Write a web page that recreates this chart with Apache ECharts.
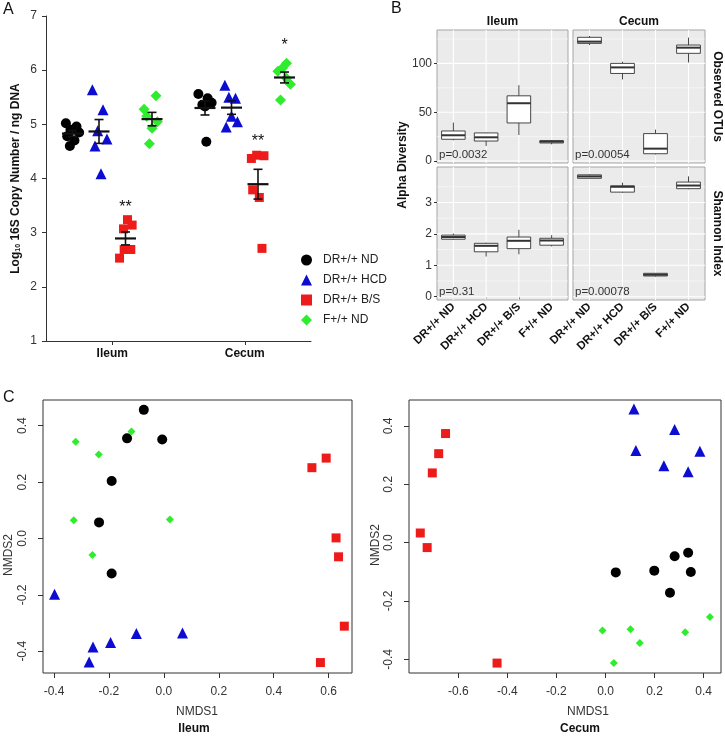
<!DOCTYPE html>
<html><head><meta charset="utf-8">
<script src="https://cdn.jsdelivr.net/npm/echarts@6/dist/echarts.min.js"></script>
<style>html,body{margin:0;padding:0;background:#fff}#c{width:725px;height:736px}</style>
</head><body><div id="c"></div>
<script>
const FONT = '"Liberation Sans", Arial, Helvetica, sans-serif';

// ---------- shared ----------
const groups = ['DR+/+ ND', 'DR+/+ HCD', 'DR+/+ B/S', 'F+/+ ND'];
const sites = ['Ileum', 'Cecum'];

// ---------- Panel A: log10 16S copy number / ng DNA ----------
const copyTicks = [1, 2, 3, 4, 5, 6, 7];
const ileumCopies = [
  [5.02, 4.96, 4.90, 4.85, 4.78, 4.70, 4.60],
  [5.64, 5.27, 4.88, 4.73, 4.60, 4.09],
  [3.24, 3.14, 3.07, 2.69, 2.69, 2.53],
  [5.53, 5.28, 5.15, 5.05, 4.93, 4.64]
];
const ileumJitter = [
  [-0.05, 0.03, -0.015, 0.05, -0.04, 0.015, -0.02],
  [-0.05, 0.03, -0.01, 0.06, -0.03, 0.015],
  [0.015, 0.05, -0.015, -0.01, 0.04, -0.045],
  [0.03, -0.06, -0.04, 0.04, 0, -0.02]
];
const cecumCopies = [
  [5.56, 5.48, 5.40, 5.36, 5.33, 4.68],
  [5.72, 5.50, 5.48, 5.15, 5.05, 4.95],
  [4.43, 4.42, 4.37, 3.79, 3.65, 2.71],
  [6.13, 6.04, 5.98, 5.85, 5.74, 5.45]
];
const cecumJitter = [
  [-0.05, 0.02, 0.05, -0.02, 0, 0.01],
  [-0.05, -0.02, 0.03, 0, 0.045, -0.04],
  [-0.01, 0.045, -0.05, -0.04, 0.01, 0.03],
  [0.015, -0.015, -0.05, 0.015, 0.045, -0.03]
];
const starSite = [0, 1, 1];
const starGroup = [2, 2, 3];
const starText = ['**', '**', '*'];
const starLevel = [3.46, 4.69, 6.45];

// ---------- Panel B: alpha diversity boxplots [min, q1, median, q3, max] ----------
const otuTicks = [0, 50, 100];
const otuMinor = [25, 75, 125];
const shannonTicks = [0, 1, 2, 3];
const shannonMinor = [0.5, 1.5, 2.5, 3.5];
const otuIleum = [
  [21.2, 22.3, 26.4, 30.8, 39.4],
  [15.4, 20.5, 24.3, 28.8, 29.1],
  [26.7, 39.0, 59.2, 66.8, 77.7],
  [17.1, 18.5, 19.9, 20.9, 21.6]
];
const otuCecum = [
  [118.8, 120.5, 122.3, 126.7, 128.1],
  [83.6, 89.7, 95.9, 100.0, 101.7],
  [6.8, 7.5, 12.7, 28.1, 32.2],
  [101.0, 110.3, 116.1, 118.8, 126.4]
];
const shannonIleum = [
  [1.81, 1.83, 1.90, 1.96, 2.01],
  [1.28, 1.43, 1.62, 1.70, 1.72],
  [1.35, 1.53, 1.78, 1.90, 2.13],
  [1.60, 1.64, 1.79, 1.86, 1.96]
];
const shannonCecum = [
  [3.76, 3.77, 3.83, 3.88, 3.90],
  [3.31, 3.33, 3.50, 3.53, 3.63],
  [0.64, 0.66, 0.70, 0.745, 0.75],
  [3.42, 3.44, 3.54, 3.65, 3.83]
];
const pLabels = ['p=0.0032', 'p=0.00054', 'p=0.31', 'p=0.00078'];

// ---------- Panel C: NMDS ordination [NMDS1, NMDS2] ----------
const nmdsTicksIleumX = [-0.4, -0.2, 0.0, 0.2, 0.4, 0.6];
const nmdsTicksCecumX = [-0.6, -0.4, -0.2, 0.0, 0.2, 0.4];
const nmdsTicksY = [-0.4, -0.2, 0.0, 0.2, 0.4];
const ileumNMDS = [
  [[-0.073, 0.456], [-0.134, 0.355], [-0.006, 0.351], [-0.190, 0.204], [-0.236, 0.057], [-0.190, -0.124]],
  [[-0.398, -0.198], [-0.258, -0.385], [-0.272, -0.438], [-0.194, -0.369], [-0.100, -0.337], [0.068, -0.335]],
  [[0.539, 0.251], [0.591, 0.285], [0.627, 0.002], [0.636, -0.065], [0.657, -0.311], [0.570, -0.440]],
  [[-0.321, 0.343], [-0.118, 0.379], [-0.237, 0.298], [-0.328, 0.065], [0.022, 0.067], [-0.260, -0.059]]
];
const cecumNMDS = [
  [[0.042, -0.102], [0.199, -0.096], [0.282, -0.047], [0.337, -0.035], [0.348, -0.101], [0.263, -0.172]],
  [[0.116, 0.458], [0.282, 0.388], [0.124, 0.316], [0.238, 0.264], [0.337, 0.243], [0.385, 0.313]],
  [[-0.652, 0.374], [-0.680, 0.305], [-0.706, 0.239], [-0.755, 0.033], [-0.727, -0.017], [-0.442, -0.413]],
  [[-0.012, -0.301], [0.102, -0.297], [0.140, -0.344], [0.034, -0.413], [0.325, -0.307], [0.426, -0.255]]
];

// ---------- styles ----------
const groupColors = ['#000000', '#0c0cd2', '#ee1b1b', '#2ded2d'];
const groupSymbols = ['circle', 'triangle', 'rect', 'diamond'];
const sizeA = [10, 11, 9, 11];
const sizeC = [10, 11, 9, 8];
const dodge = [-0.3, -0.1, 0.1, 0.3];

const chart = echarts.init(document.getElementById('c'), null, {renderer: 'canvas'});

function mean(a) { return a.reduce((s, v) => s + v, 0) / a.length; }
function sem(a) {
  const m = mean(a);
  const v = a.reduce((s, x) => s + (x - m) * (x - m), 0) / (a.length - 1);
  return Math.sqrt(v / a.length);
}

const series = [];
const copies = [ileumCopies, cecumCopies];
const jitters = [ileumJitter, cecumJitter];

// Panel A points
groups.forEach((g, gi) => {
  const data = [];
  sites.forEach((s, si) => {
    copies[si][gi].forEach((v, k) => data.push([si + 0.5 + dodge[gi] + jitters[si][gi][k], v]));
  });
  series.push({
    name: g, type: 'scatter', xAxisIndex: 1, yAxisIndex: 0, data,
    symbol: groupSymbols[gi], symbolSize: sizeA[gi],
    itemStyle: {color: groupColors[gi], opacity: 1}, z: 3
  });
});
// Panel A mean +/- SEM
const meanData = [];
sites.forEach((s, si) => groups.forEach((g, gi) => {
  meanData.push([si + 0.5 + dodge[gi], mean(copies[si][gi]), sem(copies[si][gi])]);
}));
series.push({
  type: 'custom', xAxisIndex: 1, yAxisIndex: 0, data: meanData, z: 5, silent: true,
  renderItem: function (params, api) {
    const x = api.value(0), m = api.value(1), e = api.value(2);
    const pm = api.coord([x, m]), pt = api.coord([x, m + e]), pb = api.coord([x, m - e]);
    const st = {stroke: '#111', lineWidth: 1.6};
    return {type: 'group', children: [
      {type: 'line', shape: {x1: pm[0] - 10.5, y1: pm[1], x2: pm[0] + 10.5, y2: pm[1]}, style: {stroke: '#111', lineWidth: 2.2}},
      {type: 'line', shape: {x1: pt[0], y1: pt[1], x2: pb[0], y2: pb[1]}, style: st},
      {type: 'line', shape: {x1: pt[0] - 4.5, y1: pt[1], x2: pt[0] + 4.5, y2: pt[1]}, style: st},
      {type: 'line', shape: {x1: pb[0] - 4.5, y1: pb[1], x2: pb[0] + 4.5, y2: pb[1]}, style: st}
    ]};
  }
});
// Panel A significance stars
series.push({
  type: 'custom', xAxisIndex: 1, yAxisIndex: 0, silent: true, z: 6,
  data: starText.map((t, i) => [starSite[i] + 0.5 + dodge[starGroup[i]], starLevel[i], i]),
  renderItem: function (params, api) {
    const p = api.coord([api.value(0), api.value(1)]);
    return {type: 'text', x: p[0], y: p[1], style: {text: starText[api.value(2)], align: 'center', verticalAlign: 'middle', font: '16px ' + FONT, fill: '#111'}};
  }
});

// Panel B
const bPanels = [
  {grid: 1, data: otuIleum, ticks: otuTicks, minor: otuMinor},
  {grid: 2, data: otuCecum, ticks: otuTicks, minor: otuMinor},
  {grid: 3, data: shannonIleum, ticks: shannonTicks, minor: shannonMinor},
  {grid: 4, data: shannonCecum, ticks: shannonTicks, minor: shannonMinor}
];
bPanels.forEach(p => {
  const lines = [];
  p.ticks.forEach(v => lines.push([0, v, 0]));
  p.minor.forEach(v => lines.push([0, v, 1]));
  groups.forEach((g, gi) => lines.push([gi, 0, 2]));
  series.push({
    type: 'custom', xAxisIndex: p.grid + 1, yAxisIndex: p.grid, data: lines, z: 1, silent: true,
    encode: {x: 0, y: 1},
    renderItem: function (params, api) {
      const cs = params.coordSys;
      const kind = api.value(2);
      if (kind === 2) {
        const x = api.coord([api.value(0), 0])[0];
        return {type: 'line', shape: {x1: x, y1: cs.y, x2: x, y2: cs.y + cs.height}, style: {stroke: '#ffffff', lineWidth: 1.1}};
      }
      const y = api.coord([0, api.value(1)])[1];
      return {type: 'line', shape: {x1: cs.x, y1: y, x2: cs.x + cs.width, y2: y}, style: {stroke: '#ffffff', lineWidth: kind === 0 ? 1.1 : 0.5}};
    }
  });
  series.push({
    type: 'custom', xAxisIndex: p.grid + 1, yAxisIndex: p.grid, z: 3, silent: true,
    data: p.data.map((b, gi) => [gi].concat(b)),
    encode: {x: 0, y: [1, 2, 3, 4, 5]},
    renderItem: function (params, api) {
      const x = api.value(0);
      const pMin = api.coord([x, api.value(1)]), pQ1 = api.coord([x, api.value(2)]),
            pMed = api.coord([x, api.value(3)]), pQ3 = api.coord([x, api.value(4)]),
            pMax = api.coord([x, api.value(5)]);
      const w = api.size([1, 0])[0] * 0.72;
      const st = {stroke: '#333333', lineWidth: 0.9};
      return {type: 'group', children: [
        {type: 'line', shape: {x1: pMax[0], y1: pMax[1], x2: pQ3[0], y2: pQ3[1]}, style: st},
        {type: 'line', shape: {x1: pQ1[0], y1: pQ1[1], x2: pMin[0], y2: pMin[1]}, style: st},
        {type: 'rect', shape: {x: pQ3[0] - w / 2, y: pQ3[1], width: w, height: pQ1[1] - pQ3[1]}, style: {fill: '#ffffff', stroke: '#333333', lineWidth: 0.9}},
        {type: 'line', shape: {x1: pMed[0] - w / 2, y1: pMed[1], x2: pMed[0] + w / 2, y2: pMed[1]}, style: {stroke: '#333333', lineWidth: 2}}
      ]};
    }
  });
});

// Panel C
[ileumNMDS, cecumNMDS].forEach((set, si) => {
  set.forEach((pts, gi) => {
    series.push({
      name: groups[gi], type: 'scatter', xAxisIndex: 6 + si, yAxisIndex: 5 + si, data: pts,
      symbol: groupSymbols[gi], symbolSize: sizeC[gi],
      itemStyle: {color: groupColors[gi], opacity: 1}, z: 3
    });
  });
});

const axisLbl = {fontFamily: FONT, fontSize: 12, color: '#333'};
const bgGrid = {show: true, backgroundColor: '#EBEBEB', borderColor: '#a5a5a5', borderWidth: 1};

const bX = (gi, bottom) => ({
  type: 'category', gridIndex: gi, data: groups, boundaryGap: true,
  axisLine: {show: false}, splitLine: {show: false},
  axisTick: {show: bottom, alignWithLabel: true, length: 3, lineStyle: {color: '#333'}},
  axisLabel: {show: bottom, interval: 0, rotate: 45, margin: 5, fontFamily: FONT, fontSize: 11.5, fontWeight: 'bold', color: '#111'}
});
const bY = (gi, left, mn, mx, ticks) => ({
  type: 'value', gridIndex: gi, min: mn, max: mx,
  axisLine: {show: false}, splitLine: {show: false},
  axisTick: {show: left, customValues: ticks, length: 3, lineStyle: {color: '#333'}},
  axisLabel: {show: left, customValues: ticks, margin: 5, fontFamily: FONT, fontSize: 12, color: '#333'}
});
const cX = (gi, mn, mx, ticks) => ({
  type: 'value', gridIndex: gi, min: mn, max: mx,
  axisLine: {show: false, onZero: false}, splitLine: {show: false},
  axisTick: {show: true, customValues: ticks, length: 5, lineStyle: {color: '#333'}},
  axisLabel: Object.assign({customValues: ticks, margin: 13, formatter: v => v.toFixed(1)}, axisLbl)
});
const cY = (gi, mn, mx, ticks) => ({
  type: 'value', gridIndex: gi, min: mn, max: mx,
  axisLine: {show: false, onZero: false}, splitLine: {show: false},
  axisTick: {show: true, customValues: ticks, length: 5, lineStyle: {color: '#333'}},
  axisLabel: Object.assign({customValues: ticks, margin: 14, rotate: 90, formatter: v => v.toFixed(1)}, axisLbl)
});

function txt(text, x, y, o) {
  o = o || {};
  return {type: 'text', x: x, y: y, z: 100, rotation: o.rot || 0, silent: true,
    style: {text: text, align: o.align || 'center', verticalAlign: 'middle', fill: o.color || '#111',
      font: (o.bold ? 'bold ' : '') + (o.size || 12) + 'px ' + FONT}};
}

const option = {
  animation: false,
  backgroundColor: '#ffffff',
  textStyle: {fontFamily: FONT},
  legend: {
    orient: 'vertical', left: 296, top: 249, itemWidth: 11, itemHeight: 11, itemGap: 8,
    data: groups, selectedMode: false,
    textStyle: {fontFamily: FONT, fontSize: 12, color: '#222', padding: [0, 0, 0, 6]}
  },
  grid: [
    {left: 46, top: 16, width: 265, height: 325},
    Object.assign({left: 437, top: 30, width: 131, height: 133}, bgGrid),
    Object.assign({left: 573, top: 30, width: 132, height: 133}, bgGrid),
    Object.assign({left: 437, top: 167, width: 131, height: 133}, bgGrid),
    Object.assign({left: 573, top: 167, width: 132, height: 133}, bgGrid),
    {left: 43, top: 400, width: 309, height: 273, show: true, borderColor: '#333', borderWidth: 1, backgroundColor: 'transparent'},
    {left: 409, top: 400, width: 312, height: 273, show: true, borderColor: '#333', borderWidth: 1, backgroundColor: 'transparent'}
  ],
  xAxis: [
    {type: 'category', gridIndex: 0, data: sites, boundaryGap: true,
      axisLine: {show: true, onZero: false, lineStyle: {color: '#333', width: 1}},
      axisTick: {show: true, alignWithLabel: true, length: 4, lineStyle: {color: '#333'}},
      axisLabel: {margin: 7, fontFamily: FONT, fontSize: 12, fontWeight: 'bold', color: '#111'},
      splitLine: {show: false}},
    {type: 'value', gridIndex: 0, min: 0, max: 2, show: false},
    bX(1, false), bX(2, false), bX(3, true), bX(4, true),
    cX(5, -0.44, 0.685, nmdsTicksIleumX),
    cX(6, -0.801, 0.471, nmdsTicksCecumX)
  ],
  yAxis: [
    {type: 'value', gridIndex: 0, min: 1, max: 7, interval: 1,
      axisLine: {show: true, onZero: false, lineStyle: {color: '#333', width: 1}},
      axisTick: {show: true, length: 4, lineStyle: {color: '#333'}},
      axisLabel: {margin: 9, fontFamily: FONT, fontSize: 12, color: '#333', customValues: copyTicks},
      splitLine: {show: false},
      name: 'Log{sub|10} 16S Copy Number / ng DNA', nameLocation: 'middle', nameGap: 24,
      nameTextStyle: {fontFamily: FONT, fontSize: 12, fontWeight: 'bold', color: '#111',
        rich: {sub: {fontFamily: FONT, fontSize: 7, fontWeight: 'bold', color: '#111', verticalAlign: 'bottom', padding: [5, 0, 0, 0]}}}},
    bY(1, true, -2, 134.2, otuTicks), bY(2, false, -2, 134.2, otuTicks),
    bY(3, true, -0.105, 4.13, shannonTicks), bY(4, false, -0.105, 4.13, shannonTicks),
    cY(5, -0.477, 0.491, nmdsTicksY),
    cY(6, -0.447, 0.489, nmdsTicksY)
  ],
  graphic: [
    txt('A', 3, 10, {size: 16, align: 'left'}),
    txt('B', 391, 9, {size: 16, align: 'left'}),
    txt('C', 3, 398, {size: 16, align: 'left'}),
    txt('Ileum', 502.5, 22, {bold: true}),
    txt('Cecum', 639, 22, {bold: true}),
    txt('Observed OTUs', 717, 96.5, {bold: true, rot: -Math.PI / 2}),
    txt('Shannon Index', 717, 233.5, {bold: true, rot: -Math.PI / 2}),
    txt('Alpha Diversity', 403, 165, {bold: true, rot: Math.PI / 2}),
    txt(pLabels[0], 439, 155, {align: 'left', size: 11.5, color: '#333'}),
    txt(pLabels[1], 575, 155, {align: 'left', size: 11.5, color: '#333'}),
    txt(pLabels[2], 439, 292, {align: 'left', size: 11.5, color: '#333'}),
    txt(pLabels[3], 575, 292, {align: 'left', size: 11.5, color: '#333'}),
    txt('NMDS1', 197, 712, {color: '#333'}),
    txt('Ileum', 194, 729, {bold: true}),
    txt('NMDS2', 9, 555, {color: '#333', rot: Math.PI / 2}),
    txt('NMDS1', 588, 712, {color: '#333'}),
    txt('Cecum', 580, 729, {bold: true}),
    txt('NMDS2', 376, 545, {color: '#333', rot: Math.PI / 2})
  ],
  series: series
};
chart.setOption(option);
</script>
</body></html>
